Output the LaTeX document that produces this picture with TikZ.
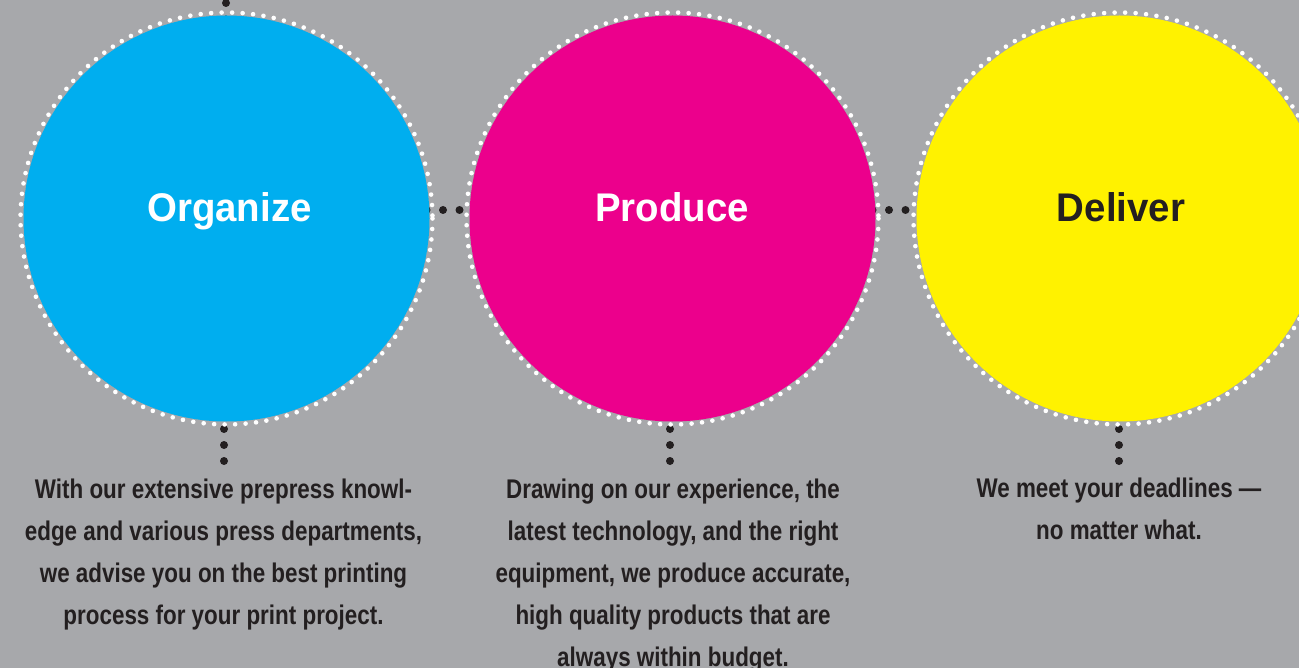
\documentclass[tikz,border=0pt]{standalone}
\usepackage{fontspec}
\setmainfont{Liberation Sans}
\newfontfamily\bodyfont[FakeStretch=0.83]{Liberation Sans}
\newfontfamily\titlefont[FakeStretch=0.96]{Liberation Sans}
\definecolor{bggray}{HTML}{A7A8AB}
\definecolor{cyanfill}{HTML}{00AEEF}
\definecolor{magfill}{HTML}{EC008C}
\definecolor{yelfill}{HTML}{FFF200}
\definecolor{textdark}{HTML}{231F20}
\tikzset{
  disc/.style={circle,inner sep=0pt,minimum size=406pt,draw=none},
  whitering/.style={draw=white,line width=4.6pt,line cap=round,dash pattern=on 0pt off 10.5pt},
  blackdots/.style={draw=textdark,line width=8pt,line cap=round,dash pattern=on 0pt off 16.5pt},
  vdots/.style={draw=textdark,line width=8pt,line cap=round,dash pattern=on 0pt off 16pt},
  titletext/.style={font=\titlefont\bfseries\fontsize{40}{48}\selectfont,anchor=base,inner sep=0pt},
  bodytext/.style={font=\bodyfont\bfseries\fontsize{27}{42}\selectfont,text=textdark,align=center,anchor=base,inner sep=0pt}
}
\begin{document}
\begin{tikzpicture}[x=1pt,y=-1pt]
\useasboundingbox (0,0) rectangle (1299,668);
\fill[bggray] (0,0) rectangle (1299,668);
\clip (0,0) rectangle (1299,668);
% connector end points
\coordinate (h1a) at (426.5,210);
\coordinate (h1b) at (476.5,210);
\coordinate (h2a) at (872.5,210);
\coordinate (h2b) at (923,210);
\coordinate (t1a) at (226,3);
\coordinate (t1b) at (226,20);
\coordinate (v1a) at (224,413);
\coordinate (v1b) at (224,461.5);
\coordinate (v2a) at (670,413);
\coordinate (v2b) at (670,461.5);
\coordinate (v3a) at (1119,413);
\coordinate (v3b) at (1119,461.5);
% black dotted connectors (behind the discs)
\draw[blackdots] (h1a) -- (h1b);
\draw[blackdots] (h2a) -- (h2b);
\draw[blackdots] (t1a) -- (t1b);
\draw[vdots] (v1a) -- (v1b);
\draw[vdots] (v2a) -- (v2b);
\draw[vdots] (v3a) -- (v3b);
% discs
\node[disc,fill=cyanfill] (c1) at (226.5,218.5) {};
\node[disc,fill=magfill] (c2) at (672.5,218.5) {};
\node[disc,fill=yelfill] (c3) at (1119.5,218.5) {};
% dotted white rings
\draw[whitering] (c1.center) circle[radius=206];
\draw[whitering] (c2.center) circle[radius=206];
\draw[whitering] (c3.center) circle[radius=206];
% titles
\node[titletext,text=white] (t1) at (229.5,222) {Organize};
\node[titletext,text=white] (t2) at (672,222) {Produce};
\node[titletext,text=textdark] (t3) at (1121,222) {Deliver};
% body texts (anchor = baseline of the last line)
\node[bodytext] (b1) at (223.5,624) {With our extensive prepress knowl-\\edge and various press departments,\\we advise you on the best printing\\process for your print project.};
\node[bodytext] (b2) at (673,666) {Drawing on our experience, the\\latest technology, and the right\\equipment, we produce accurate,\\high quality products that are\\always within budget.};
\node[bodytext] (b3) at (1119,539) {We meet your deadlines \textemdash\\no matter what.};
\end{tikzpicture}
\end{document}
